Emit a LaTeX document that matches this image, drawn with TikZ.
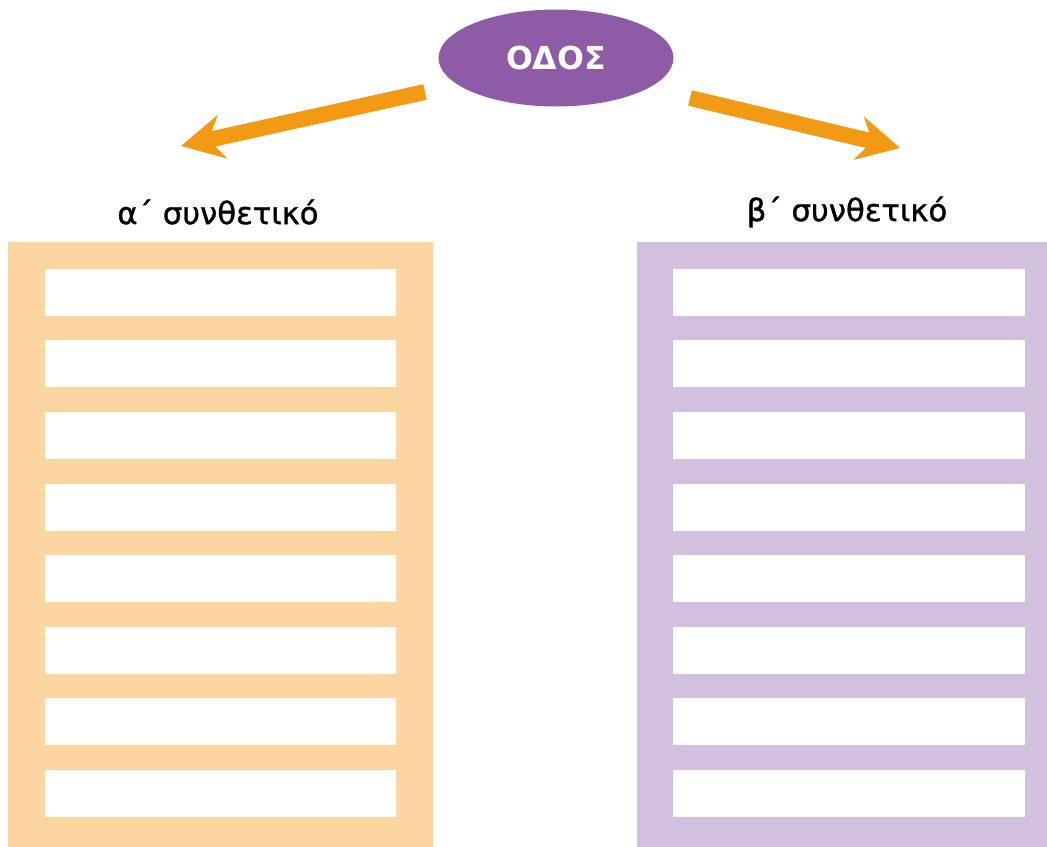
\documentclass[tikz,border=0pt]{standalone}
\usepackage{fontspec}
\setmainfont{DejaVu Sans}
\newfontfamily\beschrift{DejaVu Sans}[FakeBold=1.2]
\usetikzlibrary{shapes.geometric,arrows.meta}
\definecolor{lila}{HTML}{8E5BA6}
\definecolor{lilahell}{HTML}{D3C0DE}
\definecolor{pfirsich}{HTML}{FCD5A0}
\definecolor{pfeil}{HTML}{F39A15}

\begin{document}
\begin{tikzpicture}[x=0.02cm,y=-0.02cm]
	\useasboundingbox (0,0) rectangle (1047,847);
	\coordinate (lstart) at (425,92);
	\coordinate (lziel) at (181,146);
	\coordinate (rstart) at (690,98);
	\coordinate (rziel) at (900,148);

	\fill[pfirsich] (8,242) rectangle (433,847);
	\fill[lilahell] (637,242) rectangle (1047,847);
	\foreach \i in {0,...,7}{
		\fill[white] (45,269+71.5*\i) rectangle (396,316+71.5*\i);
		\fill[white] (673,269+71.5*\i) rectangle (1025,316+71.5*\i);
	}

	\node (odos) [ellipse,fill=lila,inner sep=0pt,minimum width=4.7cm,minimum height=1.94cm,text=white,font=\bfseries\fontsize{18}{18}\selectfont] at (556,58) {ΟΔΟΣ};
	\node (alpha) at (218,212) [font=\beschrift\fontsize{17.5}{17.5}\selectfont] {α΄ συνθετικό};
	\node (beta) at (847,212) [font=\beschrift\fontsize{17.5}{17.5}\selectfont] {β΄ συνθετικό};

	\draw[line width=9pt,pfeil,-{Stealth[length=24pt,width=25pt,inset=8pt]}] (lstart) -- (lziel);
	\draw[line width=9pt,pfeil,-{Stealth[length=24pt,width=25pt,inset=8pt]}] (rstart) -- (rziel);
\end{tikzpicture}
\end{document}
